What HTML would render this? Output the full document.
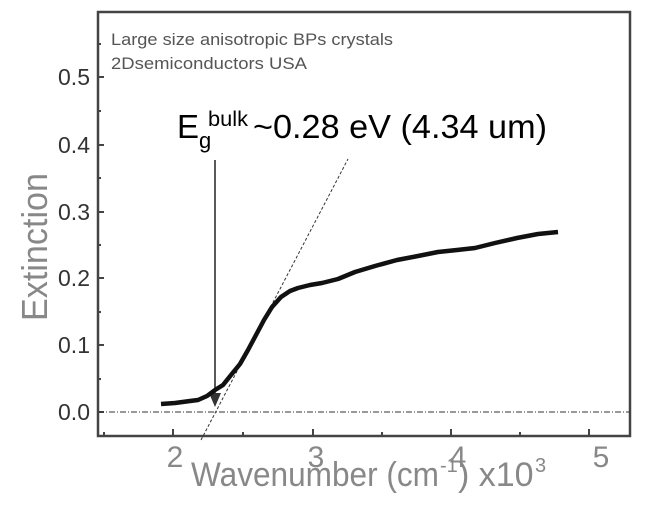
<!DOCTYPE html>
<html><head><style>body{margin:0;background:#fff}svg{display:block}</style></head><body>
<svg width="645" height="524" viewBox="0 0 645 524" xmlns="http://www.w3.org/2000/svg" font-family="Liberation Sans, sans-serif">
<rect x="98" y="12" width="532" height="424" fill="none" stroke="#444" stroke-width="2.5"/>
<g stroke="#444" stroke-width="2">
<line x1="98" y1="412" x2="104" y2="412"/><line x1="98" y1="345" x2="104" y2="345"/><line x1="98" y1="278" x2="104" y2="278"/><line x1="98" y1="212" x2="104" y2="212"/><line x1="98" y1="145" x2="104" y2="145"/><line x1="98" y1="77" x2="104" y2="77"/>
<line x1="98" y1="379" x2="101" y2="379"/><line x1="98" y1="312" x2="101" y2="312"/><line x1="98" y1="245" x2="101" y2="245"/><line x1="98" y1="178" x2="101" y2="178"/><line x1="98" y1="111" x2="101" y2="111"/><line x1="98" y1="44" x2="101" y2="44"/>
<line x1="173" y1="436" x2="173" y2="429"/><line x1="313" y1="436" x2="313" y2="429"/><line x1="451" y1="436" x2="451" y2="429"/><line x1="589" y1="436" x2="589" y2="429"/>
<line x1="104" y1="436" x2="104" y2="432"/><line x1="243" y1="436" x2="243" y2="432"/><line x1="382" y1="436" x2="382" y2="432"/><line x1="520" y1="436" x2="520" y2="432"/>
</g>
<line x1="98" y1="412" x2="630" y2="412" stroke="#333" stroke-width="1" stroke-dasharray="6,2,1,2"/>
<g font-size="23" fill="#333" text-anchor="end">
<text x="90" y="420">0.0</text><text x="90" y="353">0.1</text><text x="90" y="286">0.2</text><text x="90" y="220">0.3</text><text x="90" y="153">0.4</text><text x="90" y="85">0.5</text>
</g>
<g font-size="30" fill="#888" text-anchor="middle">
<text x="175" y="467">2</text><text x="316" y="467">3</text><text x="458" y="467">4</text><text x="601" y="467">5</text>
</g>
<text x="191" y="486" font-size="34" fill="#888" textLength="248" lengthAdjust="spacingAndGlyphs">Wavenumber (cm</text>
<text x="440" y="472" font-size="20" fill="#888">-1</text>
<text x="458" y="486" font-size="34" fill="#888">) x10</text>
<text x="535" y="472" font-size="20" fill="#888">3</text>
<text transform="translate(47,247) rotate(-90)" font-size="36" fill="#888" text-anchor="middle" textLength="148" lengthAdjust="spacingAndGlyphs">Extinction</text>
<text x="111" y="45" font-size="17" fill="#555" textLength="282" lengthAdjust="spacingAndGlyphs">Large size anisotropic BPs crystals</text>
<text x="111" y="69" font-size="17" fill="#555" textLength="196" lengthAdjust="spacingAndGlyphs">2Dsemiconductors USA</text>
<text x="177" y="138" font-size="33" fill="#000">E</text>
<text x="199" y="148" font-size="22" fill="#000">g</text>
<text x="208" y="126" font-size="21" fill="#000" textLength="40" lengthAdjust="spacingAndGlyphs">bulk</text>
<text x="253" y="138" font-size="33" fill="#000" textLength="294" lengthAdjust="spacingAndGlyphs">~0.28 eV (4.34 um)</text>
<line x1="201" y1="440" x2="348" y2="159" stroke="#333" stroke-width="1" stroke-dasharray="3,2"/>
<line x1="215" y1="160" x2="215" y2="395" stroke="#222" stroke-width="1.5"/>
<polygon points="209,393 221,393 215,407" fill="#333"/>
<polyline fill="none" stroke="#111" stroke-width="4.5" stroke-linejoin="round" points="161,404 175,403 190,401 198,400 207,396 215,390 223,385 231,375 240,364 248,350 256,335 264,320 272,307 281,297 290,291 298,288 310,285 322,283 338,279 355,272 375,266 397,260 418,256 438,252 457,250 475,248 495,243 517,238 538,234 558,232"/>
</svg>
</body></html>
